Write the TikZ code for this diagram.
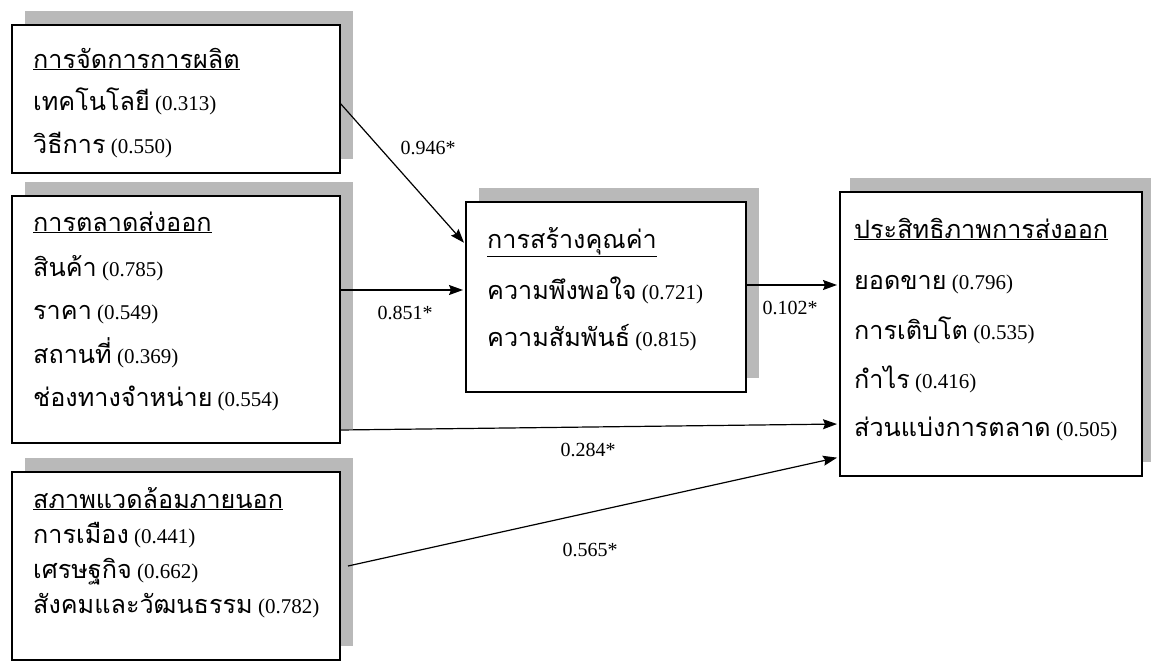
\documentclass[tikz,border=0pt]{standalone}
\usepackage{fontspec}
\setmainfont{Liberation Serif}
\newfontfamily\thaifont[Script=Thai,Scale=1.2]{Loma}
\newcommand\thx[1]{{\thaifont #1}}
\usetikzlibrary{shadows,arrows.meta}
\begin{document}
\begin{tikzpicture}[x=1pt,y=-1pt,
  box/.style={draw, line width=1.3pt, fill=white, anchor=north west, inner sep=0pt, outer sep=0pt,
    drop shadow={shadow xshift=13pt, shadow yshift=14pt, fill=gray!55, opacity=1}},
  ln/.style={anchor=base west, inner sep=0pt, font=\fontsize{21}{21}\selectfont},
  conn/.style={-{Stealth[length=14pt,width=10pt,inset=2pt]}, line width=1.2pt, shorten >=3pt},
  lab/.style={font=\fontsize{20}{20}\selectfont, inner sep=1pt}]
\useasboundingbox (0,0) rectangle (1151,664);

% boxes
\node[box, minimum width=328pt, minimum height=148pt] (pm) at (12,25) {};
\node[box, minimum width=328pt, minimum height=247pt] (em) at (12,196) {};
\node[box, minimum width=328pt, minimum height=188pt] (env) at (12,472) {};
\node[box, minimum width=280pt, minimum height=190pt] (vc) at (466,202) {};
\node[box, minimum width=302pt, minimum height=284pt,
  drop shadow={shadow xshift=10pt, shadow yshift=14pt, fill=gray!55, opacity=1}] (ep) at (840,192) {};

% texts: production management
\node[ln] (pm1) at (33,68) {\underline{\thx{การจัดการการผลิต}}};
\node[ln] (pm2) at (33,110) {\thx{เทคโนโลยี} (0.313)};
\node[ln] (pm3) at (33,153) {\thx{วิธีการ} (0.550)};
% export marketing
\node[ln] (em1) at (33,231) {\underline{\thx{การตลาดส่งออก}}};
\node[ln] (em2) at (33,276) {\thx{สินค้า} (0.785)};
\node[ln] (em3) at (33,319) {\thx{ราคา} (0.549)};
\node[ln] (em4) at (33,363) {\thx{สถานที่} (0.369)};
\node[ln] (em5) at (33,406) {\thx{ช่องทางจำหน่าย} (0.554)};
% environment
\node[ln] (env1) at (33,508) {\underline{\thx{สภาพแวดล้อมภายนอก}}};
\node[ln] (env2) at (33,543) {\thx{การเมือง} (0.441)};
\node[ln] (env3) at (33,578) {\thx{เศรษฐกิจ} (0.662)};
\node[ln] (env4) at (33,613) {\thx{สังคมและวัฒนธรรม} (0.782)};
% value creation
\node[ln] (vc1) at (487,248) {\underline{\thx{การสร้างคุณค่า}}};
\node[ln] (vc2) at (487,299) {\thx{ความพึงพอใจ} (0.721)};
\node[ln] (vc3) at (487,346) {\thx{ความสัมพันธ์} (0.815)};
% export performance
\node[ln] (ep1) at (854,238) {\underline{\thx{ประสิทธิภาพการส่งออก}}};
\node[ln] (ep2) at (854,289) {\thx{ยอดขาย} (0.796)};
\node[ln] (ep3) at (854,339) {\thx{การเติบโต} (0.535)};
\node[ln] (ep4) at (854,388) {\thx{กำไร} (0.416)};
\node[ln] (ep5) at (854,436) {\thx{ส่วนแบ่งการตลาด} (0.505)};

% connectors
\draw[conn] ([yshift=-4pt]pm.east) -- ([yshift=52pt]vc.west);
\draw[conn] ([yshift=29.5pt]em.east) -- ([yshift=7pt]vc.west);
\draw[conn] ([yshift=12pt]vc.east) -- ([yshift=49pt]ep.west);
\draw[conn] ([yshift=13pt]em.south east) -- ([yshift=-90pt]ep.west);
\draw[conn] ([xshift=8pt]env.east) -- ([yshift=-123pt]ep.west);

\node[lab] (l1) at (428,148) {0.946*};
\node[lab] (l2) at (405,313) {0.851*};
\node[lab] (l3) at (790,308) {0.102*};
\node[lab] (l4) at (588,450) {0.284*};
\node[lab] (l5) at (590,550) {0.565*};
\end{tikzpicture}
\end{document}
